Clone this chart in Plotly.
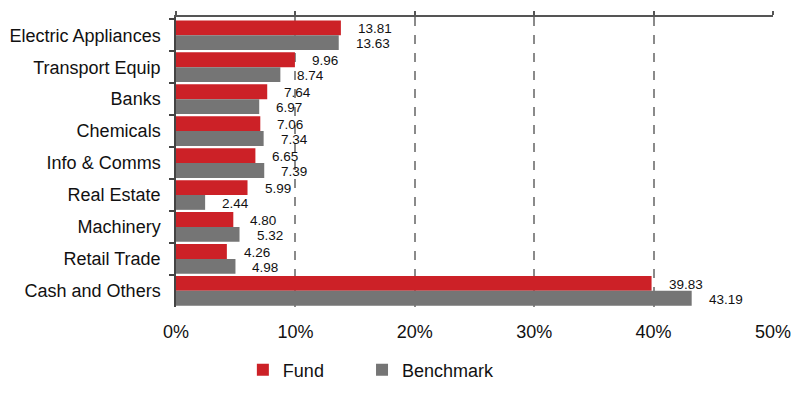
import plotly.graph_objects as go

categories = ["Electric Appliances", "Transport Equip", "Banks", "Chemicals",
              "Info & Comms", "Real Estate", "Machinery", "Retail Trade", "Cash and Others"]
fund = [13.81, 9.96, 7.64, 7.06, 6.65, 5.99, 4.80, 4.26, 39.83]
benchmark = [13.63, 8.74, 6.97, 7.34, 7.39, 2.44, 5.32, 4.98, 43.19]
x_ticks = [0, 10, 20, 30, 40, 50]
x_tick_labels = ["0%", "10%", "20%", "30%", "40%", "50%"]

RED = "#CC2127"
GRAY = "#757575"
FONT = "Liberation Sans, Arial, sans-serif"

fig = go.Figure()
fig.add_trace(go.Bar(y=categories, x=fund, orientation="h", name="Fund",
                     marker=dict(color=RED, line=dict(width=0)), legend="legend"))
fig.add_trace(go.Bar(y=categories, x=benchmark, orientation="h", name="Benchmark",
                     marker=dict(color=GRAY, line=dict(width=0)), legend="legend2"))
# dummy trace for top axis line
fig.add_trace(go.Scatter(x=[0], y=[categories[0]], xaxis="x2", mode="markers",
                         marker=dict(opacity=0), showlegend=False, hoverinfo="skip"))

ann = []
for i, c in enumerate(categories):
    for val, off in ((fund[i], -0.24), (benchmark[i], 0.24)):
        ann.append(dict(x=val, y=i + off, xref="x", yref="y", text=f"{val:.2f}",
                        showarrow=False, xanchor="left", yanchor="middle", xshift=15, yshift=-1,
                        font=dict(family=FONT, size=13.5, color="#111111")))

legend_common = dict(orientation="h", y=-0.217, xanchor="left", yanchor="middle",
                     font=dict(size=18, family=FONT, color="#111111"),
                     bgcolor="rgba(0,0,0,0)")

fig.update_layout(
    width=800, height=396,
    margin=dict(l=176, r=27, t=17, b=89, autoexpand=False),
    plot_bgcolor="white", paper_bgcolor="white",
    barmode="group", bargap=0.07, bargroupgap=0.0,
    font=dict(family=FONT, color="#111111"),
    xaxis=dict(range=[0, 50], tickvals=x_ticks, ticktext=x_tick_labels,
               showgrid=True, gridcolor="#8a8a8a", griddash="dash", gridwidth=1.5,
               zeroline=False, showline=False, ticks="", automargin=False,
               ticklabelstandoff=12,
               tickfont=dict(size=18, family=FONT, color="#111111")),
    xaxis2=dict(range=[0, 50], overlaying="x", side="top", tickvals=x_ticks,
                showticklabels=False, showgrid=False, zeroline=False, automargin=False,
                showline=True, linecolor="#555555", linewidth=1.5,
                ticks="outside", ticklen=4, tickcolor="#555555", tickwidth=1.5),
    yaxis=dict(categoryorder="array", categoryarray=categories, autorange="reversed",
               showline=True, linecolor="#444444", linewidth=1.5, automargin=False,
               ticks="outside", tickson="boundaries", ticklen=5, tickcolor="#444444",
               tickwidth=1.5, showgrid=False, zeroline=False, ticklabelstandoff=10,
               tickfont=dict(size=18, family=FONT, color="#111111")),
    legend=dict(x=0.112, **legend_common),
    legend2=dict(x=0.3116, **legend_common),
    annotations=ann,
)

fig.write_html("out.html", config={"displayModeBar": False},
               post_script="document.body.style.margin='0';document.body.style.padding='0';")
